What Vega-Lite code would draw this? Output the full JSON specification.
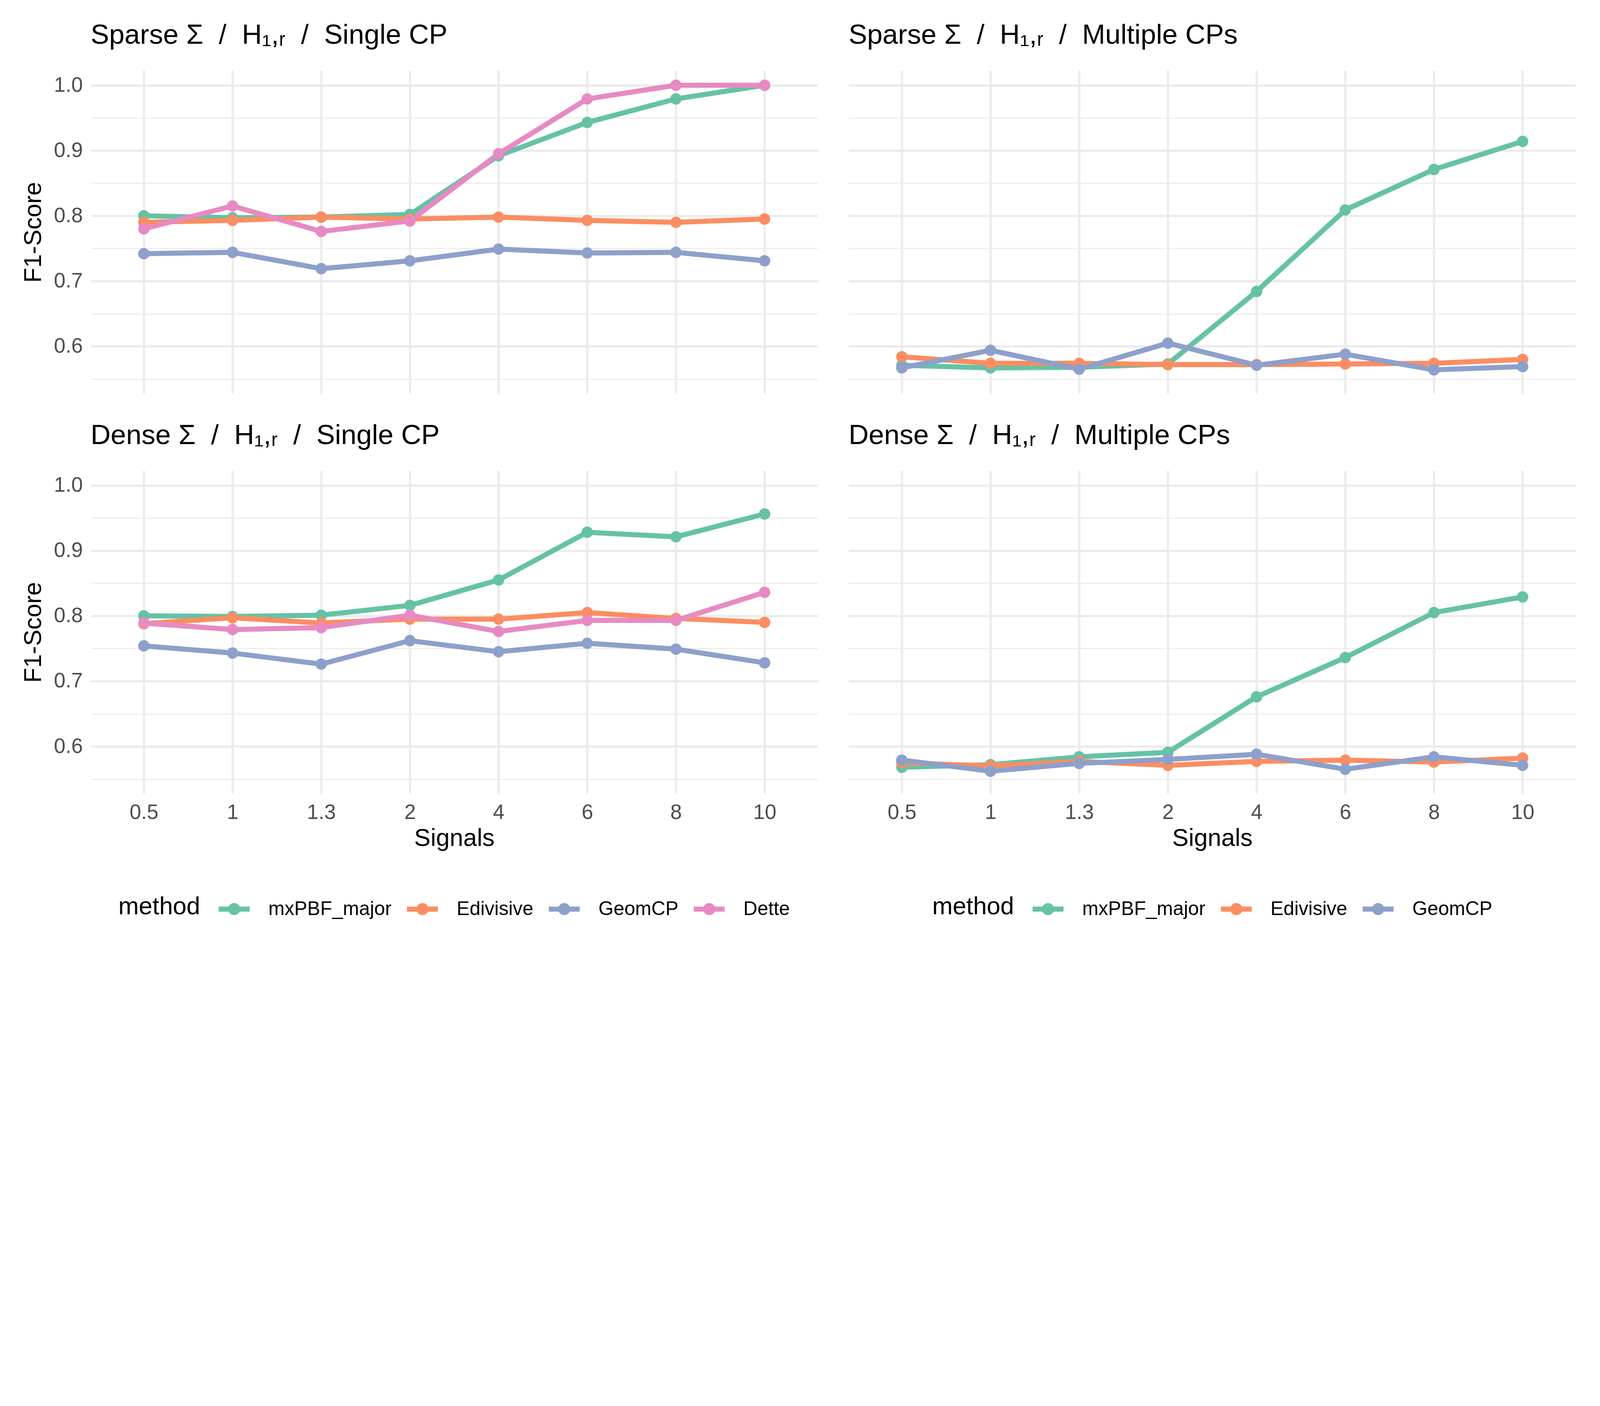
{
  "$schema": "https://vega.github.io/schema/vega-lite/v6.json",
  "background": "white",
  "padding": {"left": 54, "top": 54.6, "right": 0, "bottom": 0},
  "data": {"values": [
    {"panel":"TL","signal":"0.5","method":"mxPBF_major","f1":0.800},
    {"panel":"TL","signal":"1","method":"mxPBF_major","f1":0.797},
    {"panel":"TL","signal":"1.3","method":"mxPBF_major","f1":0.798},
    {"panel":"TL","signal":"2","method":"mxPBF_major","f1":0.802},
    {"panel":"TL","signal":"4","method":"mxPBF_major","f1":0.892},
    {"panel":"TL","signal":"6","method":"mxPBF_major","f1":0.943},
    {"panel":"TL","signal":"8","method":"mxPBF_major","f1":0.979},
    {"panel":"TL","signal":"10","method":"mxPBF_major","f1":1.000},
    {"panel":"TL","signal":"0.5","method":"Edivisive","f1":0.790},
    {"panel":"TL","signal":"1","method":"Edivisive","f1":0.793},
    {"panel":"TL","signal":"1.3","method":"Edivisive","f1":0.798},
    {"panel":"TL","signal":"2","method":"Edivisive","f1":0.795},
    {"panel":"TL","signal":"4","method":"Edivisive","f1":0.798},
    {"panel":"TL","signal":"6","method":"Edivisive","f1":0.793},
    {"panel":"TL","signal":"8","method":"Edivisive","f1":0.790},
    {"panel":"TL","signal":"10","method":"Edivisive","f1":0.795},
    {"panel":"TL","signal":"0.5","method":"GeomCP","f1":0.742},
    {"panel":"TL","signal":"1","method":"GeomCP","f1":0.744},
    {"panel":"TL","signal":"1.3","method":"GeomCP","f1":0.719},
    {"panel":"TL","signal":"2","method":"GeomCP","f1":0.731},
    {"panel":"TL","signal":"4","method":"GeomCP","f1":0.749},
    {"panel":"TL","signal":"6","method":"GeomCP","f1":0.743},
    {"panel":"TL","signal":"8","method":"GeomCP","f1":0.744},
    {"panel":"TL","signal":"10","method":"GeomCP","f1":0.731},
    {"panel":"TL","signal":"0.5","method":"Dette","f1":0.780},
    {"panel":"TL","signal":"1","method":"Dette","f1":0.815},
    {"panel":"TL","signal":"1.3","method":"Dette","f1":0.776},
    {"panel":"TL","signal":"2","method":"Dette","f1":0.792},
    {"panel":"TL","signal":"4","method":"Dette","f1":0.895},
    {"panel":"TL","signal":"6","method":"Dette","f1":0.979},
    {"panel":"TL","signal":"8","method":"Dette","f1":1.000},
    {"panel":"TL","signal":"10","method":"Dette","f1":1.000},
    {"panel":"TR","signal":"0.5","method":"mxPBF_major","f1":0.571},
    {"panel":"TR","signal":"1","method":"mxPBF_major","f1":0.567},
    {"panel":"TR","signal":"1.3","method":"mxPBF_major","f1":0.568},
    {"panel":"TR","signal":"2","method":"mxPBF_major","f1":0.573},
    {"panel":"TR","signal":"4","method":"mxPBF_major","f1":0.684},
    {"panel":"TR","signal":"6","method":"mxPBF_major","f1":0.809},
    {"panel":"TR","signal":"8","method":"mxPBF_major","f1":0.871},
    {"panel":"TR","signal":"10","method":"mxPBF_major","f1":0.914},
    {"panel":"TR","signal":"0.5","method":"Edivisive","f1":0.584},
    {"panel":"TR","signal":"1","method":"Edivisive","f1":0.574},
    {"panel":"TR","signal":"1.3","method":"Edivisive","f1":0.574},
    {"panel":"TR","signal":"2","method":"Edivisive","f1":0.572},
    {"panel":"TR","signal":"4","method":"Edivisive","f1":0.572},
    {"panel":"TR","signal":"6","method":"Edivisive","f1":0.573},
    {"panel":"TR","signal":"8","method":"Edivisive","f1":0.574},
    {"panel":"TR","signal":"10","method":"Edivisive","f1":0.580},
    {"panel":"TR","signal":"0.5","method":"GeomCP","f1":0.567},
    {"panel":"TR","signal":"1","method":"GeomCP","f1":0.594},
    {"panel":"TR","signal":"1.3","method":"GeomCP","f1":0.565},
    {"panel":"TR","signal":"2","method":"GeomCP","f1":0.605},
    {"panel":"TR","signal":"4","method":"GeomCP","f1":0.571},
    {"panel":"TR","signal":"6","method":"GeomCP","f1":0.588},
    {"panel":"TR","signal":"8","method":"GeomCP","f1":0.564},
    {"panel":"TR","signal":"10","method":"GeomCP","f1":0.569},
    {"panel":"BL","signal":"0.5","method":"mxPBF_major","f1":0.800},
    {"panel":"BL","signal":"1","method":"mxPBF_major","f1":0.799},
    {"panel":"BL","signal":"1.3","method":"mxPBF_major","f1":0.801},
    {"panel":"BL","signal":"2","method":"mxPBF_major","f1":0.816},
    {"panel":"BL","signal":"4","method":"mxPBF_major","f1":0.855},
    {"panel":"BL","signal":"6","method":"mxPBF_major","f1":0.928},
    {"panel":"BL","signal":"8","method":"mxPBF_major","f1":0.921},
    {"panel":"BL","signal":"10","method":"mxPBF_major","f1":0.956},
    {"panel":"BL","signal":"0.5","method":"Edivisive","f1":0.788},
    {"panel":"BL","signal":"1","method":"Edivisive","f1":0.797},
    {"panel":"BL","signal":"1.3","method":"Edivisive","f1":0.789},
    {"panel":"BL","signal":"2","method":"Edivisive","f1":0.795},
    {"panel":"BL","signal":"4","method":"Edivisive","f1":0.795},
    {"panel":"BL","signal":"6","method":"Edivisive","f1":0.805},
    {"panel":"BL","signal":"8","method":"Edivisive","f1":0.796},
    {"panel":"BL","signal":"10","method":"Edivisive","f1":0.790},
    {"panel":"BL","signal":"0.5","method":"GeomCP","f1":0.754},
    {"panel":"BL","signal":"1","method":"GeomCP","f1":0.743},
    {"panel":"BL","signal":"1.3","method":"GeomCP","f1":0.726},
    {"panel":"BL","signal":"2","method":"GeomCP","f1":0.762},
    {"panel":"BL","signal":"4","method":"GeomCP","f1":0.745},
    {"panel":"BL","signal":"6","method":"GeomCP","f1":0.758},
    {"panel":"BL","signal":"8","method":"GeomCP","f1":0.749},
    {"panel":"BL","signal":"10","method":"GeomCP","f1":0.728},
    {"panel":"BL","signal":"0.5","method":"Dette","f1":0.789},
    {"panel":"BL","signal":"1","method":"Dette","f1":0.779},
    {"panel":"BL","signal":"1.3","method":"Dette","f1":0.782},
    {"panel":"BL","signal":"2","method":"Dette","f1":0.801},
    {"panel":"BL","signal":"4","method":"Dette","f1":0.776},
    {"panel":"BL","signal":"6","method":"Dette","f1":0.793},
    {"panel":"BL","signal":"8","method":"Dette","f1":0.793},
    {"panel":"BL","signal":"10","method":"Dette","f1":0.836},
    {"panel":"BR","signal":"0.5","method":"mxPBF_major","f1":0.568},
    {"panel":"BR","signal":"1","method":"mxPBF_major","f1":0.572},
    {"panel":"BR","signal":"1.3","method":"mxPBF_major","f1":0.584},
    {"panel":"BR","signal":"2","method":"mxPBF_major","f1":0.591},
    {"panel":"BR","signal":"4","method":"mxPBF_major","f1":0.676},
    {"panel":"BR","signal":"6","method":"mxPBF_major","f1":0.736},
    {"panel":"BR","signal":"8","method":"mxPBF_major","f1":0.805},
    {"panel":"BR","signal":"10","method":"mxPBF_major","f1":0.829},
    {"panel":"BR","signal":"0.5","method":"Edivisive","f1":0.575},
    {"panel":"BR","signal":"1","method":"Edivisive","f1":0.570},
    {"panel":"BR","signal":"1.3","method":"Edivisive","f1":0.577},
    {"panel":"BR","signal":"2","method":"Edivisive","f1":0.571},
    {"panel":"BR","signal":"4","method":"Edivisive","f1":0.577},
    {"panel":"BR","signal":"6","method":"Edivisive","f1":0.579},
    {"panel":"BR","signal":"8","method":"Edivisive","f1":0.576},
    {"panel":"BR","signal":"10","method":"Edivisive","f1":0.582},
    {"panel":"BR","signal":"0.5","method":"GeomCP","f1":0.579},
    {"panel":"BR","signal":"1","method":"GeomCP","f1":0.562},
    {"panel":"BR","signal":"1.3","method":"GeomCP","f1":0.574},
    {"panel":"BR","signal":"2","method":"GeomCP","f1":0.580},
    {"panel":"BR","signal":"4","method":"GeomCP","f1":0.588},
    {"panel":"BR","signal":"6","method":"GeomCP","f1":0.565},
    {"panel":"BR","signal":"8","method":"GeomCP","f1":0.584},
    {"panel":"BR","signal":"10","method":"GeomCP","f1":0.571}
  ]},
  "config": {
    "font": "Liberation Sans",
    "view": {"stroke": null},
    "axis": {"domain": false, "ticks": false, "gridColor": "#EBEBEB", "labelColor": "#4D4D4D", "labelFontSize": 53.2, "titleFontSize": 62.8, "titleFontWeight": "normal", "titleColor": "#000000"},
    "title": {"fontSize": 71, "fontWeight": "normal", "anchor": "start", "frame": "group", "color": "#000000", "baseline": "alphabetic", "offset": 53.2, "limit": 3000},
    "legend": {"layout": {"bottom": {"anchor": "middle", "bounds": "flush"}}}
  },
  "spacing": 78.5,
  "resolve": {"scale": {"color": "independent"}, "legend": {"color": "independent"}},
  "hconcat": [
    {
      "spacing": 70.3,
      "resolve": {"scale": {"color": "independent"}, "legend": {"color": "independent"}},
      "vconcat": [
        {
          "title": {"text": "Sparse Σ\u00a0\u00a0/\u00a0\u00a0H₁,ᵣ\u00a0\u00a0/\u00a0\u00a0Single CP"},
          "width": 1861.6, "height": 827.4,
          "transform": [{"filter": "datum.panel === 'TL'"}],
          "encoding": {
            "x": {"field": "signal", "type": "ordinal", "sort": ["0.5","1","1.3","2","4","6","8","10"], "scale": {"type": "point", "padding": 0.6}, "axis": {"labels": false, "title": null, "grid": true, "gridWidth": 5.5}},
            "color": {"field": "method", "type": "nominal", "scale": {"domain": ["mxPBF_major","Edivisive","GeomCP","Dette"], "range": ["#66c2a5","#fc8d62","#8da0cb","#e78ac3"]}, "legend": null}
          },
          "layer": [
            {"mark": {"type": "line", "strokeWidth": 13, "strokeJoin": "round"},
             "encoding": {"y": {"field": "f1", "type": "quantitative", "scale": {"domain": [0.5275, 1.0225], "nice": false, "zero": false}, "axis": {"orient": "left", "values": [0.55,0.65,0.75,0.85,0.95], "labels": false, "title": null, "grid": true, "gridWidth": 2.7}}}},
            {"mark": {"type": "point", "filled": true, "size": 850, "opacity": 1, "strokeWidth": 0},
             "encoding": {"y": {"field": "f1", "type": "quantitative", "axis": {"orient": "left", "values": [0.6,0.7,0.8,0.9,1.0], "format": ".1f", "grid": true, "gridWidth": 5.5, "labelPadding": 20.5, "title": "F1-Score", "titlePadding": 20.5}}}}
          ],
          "resolve": {"axis": {"y": "independent"}}
        },
        {
          "title": {"text": "Dense Σ\u00a0\u00a0/\u00a0\u00a0H₁,ᵣ\u00a0\u00a0/\u00a0\u00a0Single CP"},
          "width": 1861.6, "height": 827.4,
          "transform": [{"filter": "datum.panel === 'BL'"}],
          "encoding": {
            "x": {"field": "signal", "type": "ordinal", "sort": ["0.5","1","1.3","2","4","6","8","10"], "scale": {"type": "point", "padding": 0.6}, "axis": {"labelAngle": 0, "title": "Signals", "grid": true, "gridWidth": 5.5, "labelPadding": 21.8, "titlePadding": 8.9}},
            "color": {"field": "method", "type": "nominal", "scale": {"domain": ["mxPBF_major","Edivisive","GeomCP","Dette"], "range": ["#66c2a5","#fc8d62","#8da0cb","#e78ac3"]},
              "legend": {"orient": "bottom", "direction": "horizontal", "titleOrient": "left", "title": "method", "titleFontSize": 62.8, "titleFontWeight": "normal", "titleColor": "#000000", "titleLimit": 3000, "labelFontSize": 49.8, "labelColor": "#000000", "labelLimit": 3000, "symbolType": "M-1,0L1,0M0.225,0A0.225,0.225,0,1,1,-0.225,0A0.225,0.225,0,1,1,0.225,0Z", "symbolSize": 6271, "symbolStrokeWidth": 13, "labelOffset": 41, "columnPadding": 12, "titlePadding": 40, "offset": 102.4,
                "encode": {"symbols": {"update": {
                  "fill": {"signal": "datum.value === 'mxPBF_major' ? '#66c2a5' : datum.value === 'Edivisive' ? '#fc8d62' : datum.value === 'GeomCP' ? '#8da0cb' : '#e78ac3'"},
                  "stroke": {"signal": "datum.value === 'mxPBF_major' ? '#66c2a5' : datum.value === 'Edivisive' ? '#fc8d62' : datum.value === 'GeomCP' ? '#8da0cb' : '#e78ac3'"},
                  "opacity": {"value": 1}}}}}}
          },
          "layer": [
            {"mark": {"type": "line", "strokeWidth": 13, "strokeJoin": "round"},
             "encoding": {"y": {"field": "f1", "type": "quantitative", "scale": {"domain": [0.5275, 1.0225], "nice": false, "zero": false}, "axis": {"orient": "left", "values": [0.55,0.65,0.75,0.85,0.95], "labels": false, "title": null, "grid": true, "gridWidth": 2.7}}}},
            {"mark": {"type": "point", "filled": true, "size": 850, "opacity": 1, "strokeWidth": 0},
             "encoding": {"y": {"field": "f1", "type": "quantitative", "axis": {"orient": "left", "values": [0.6,0.7,0.8,0.9,1.0], "format": ".1f", "grid": true, "gridWidth": 5.5, "labelPadding": 20.5, "title": "F1-Score", "titlePadding": 20.5}}}}
          ],
          "resolve": {"axis": {"y": "independent"}}
        }
      ]
    },
    {
      "spacing": 70.3,
      "resolve": {"scale": {"color": "independent"}, "legend": {"color": "independent"}},
      "vconcat": [
        {
          "title": {"text": "Sparse Σ\u00a0\u00a0/\u00a0\u00a0H₁,ᵣ\u00a0\u00a0/\u00a0\u00a0Multiple CPs"},
          "width": 1861.6, "height": 827.4,
          "transform": [{"filter": "datum.panel === 'TR'"}],
          "encoding": {
            "x": {"field": "signal", "type": "ordinal", "sort": ["0.5","1","1.3","2","4","6","8","10"], "scale": {"type": "point", "padding": 0.6}, "axis": {"labels": false, "title": null, "grid": true, "gridWidth": 5.5}},
            "color": {"field": "method", "type": "nominal", "scale": {"domain": ["mxPBF_major","Edivisive","GeomCP"], "range": ["#66c2a5","#fc8d62","#8da0cb"]}, "legend": null}
          },
          "layer": [
            {"mark": {"type": "line", "strokeWidth": 13, "strokeJoin": "round"},
             "encoding": {"y": {"field": "f1", "type": "quantitative", "scale": {"domain": [0.5275, 1.0225], "nice": false, "zero": false}, "axis": {"orient": "left", "values": [0.55,0.65,0.75,0.85,0.95], "labels": false, "title": null, "grid": true, "gridWidth": 2.7}}}},
            {"mark": {"type": "point", "filled": true, "size": 850, "opacity": 1, "strokeWidth": 0},
             "encoding": {"y": {"field": "f1", "type": "quantitative", "axis": {"orient": "left", "values": [0.6,0.7,0.8,0.9,1.0], "labels": false, "grid": true, "gridWidth": 5.5, "title": null}}}}
          ],
          "resolve": {"axis": {"y": "independent"}}
        },
        {
          "title": {"text": "Dense Σ\u00a0\u00a0/\u00a0\u00a0H₁,ᵣ\u00a0\u00a0/\u00a0\u00a0Multiple CPs"},
          "width": 1861.6, "height": 827.4,
          "transform": [{"filter": "datum.panel === 'BR'"}],
          "encoding": {
            "x": {"field": "signal", "type": "ordinal", "sort": ["0.5","1","1.3","2","4","6","8","10"], "scale": {"type": "point", "padding": 0.6}, "axis": {"labelAngle": 0, "title": "Signals", "grid": true, "gridWidth": 5.5, "labelPadding": 21.8, "titlePadding": 8.9}},
            "color": {"field": "method", "type": "nominal", "scale": {"domain": ["mxPBF_major","Edivisive","GeomCP"], "range": ["#66c2a5","#fc8d62","#8da0cb"]},
              "legend": {"orient": "bottom", "direction": "horizontal", "titleOrient": "left", "title": "method", "titleFontSize": 62.8, "titleFontWeight": "normal", "titleColor": "#000000", "titleLimit": 3000, "labelFontSize": 49.8, "labelColor": "#000000", "labelLimit": 3000, "symbolType": "M-1,0L1,0M0.225,0A0.225,0.225,0,1,1,-0.225,0A0.225,0.225,0,1,1,0.225,0Z", "symbolSize": 6271, "symbolStrokeWidth": 13, "labelOffset": 41, "columnPadding": 12, "titlePadding": 40, "offset": 102.4,
                "encode": {"symbols": {"update": {
                  "fill": {"signal": "datum.value === 'mxPBF_major' ? '#66c2a5' : datum.value === 'Edivisive' ? '#fc8d62' : '#8da0cb'"},
                  "stroke": {"signal": "datum.value === 'mxPBF_major' ? '#66c2a5' : datum.value === 'Edivisive' ? '#fc8d62' : '#8da0cb'"},
                  "opacity": {"value": 1}}}}}}
          },
          "layer": [
            {"mark": {"type": "line", "strokeWidth": 13, "strokeJoin": "round"},
             "encoding": {"y": {"field": "f1", "type": "quantitative", "scale": {"domain": [0.5275, 1.0225], "nice": false, "zero": false}, "axis": {"orient": "left", "values": [0.55,0.65,0.75,0.85,0.95], "labels": false, "title": null, "grid": true, "gridWidth": 2.7}}}},
            {"mark": {"type": "point", "filled": true, "size": 850, "opacity": 1, "strokeWidth": 0},
             "encoding": {"y": {"field": "f1", "type": "quantitative", "axis": {"orient": "left", "values": [0.6,0.7,0.8,0.9,1.0], "labels": false, "grid": true, "gridWidth": 5.5, "title": null}}}}
          ],
          "resolve": {"axis": {"y": "independent"}}
        }
      ]
    }
  ]
}
